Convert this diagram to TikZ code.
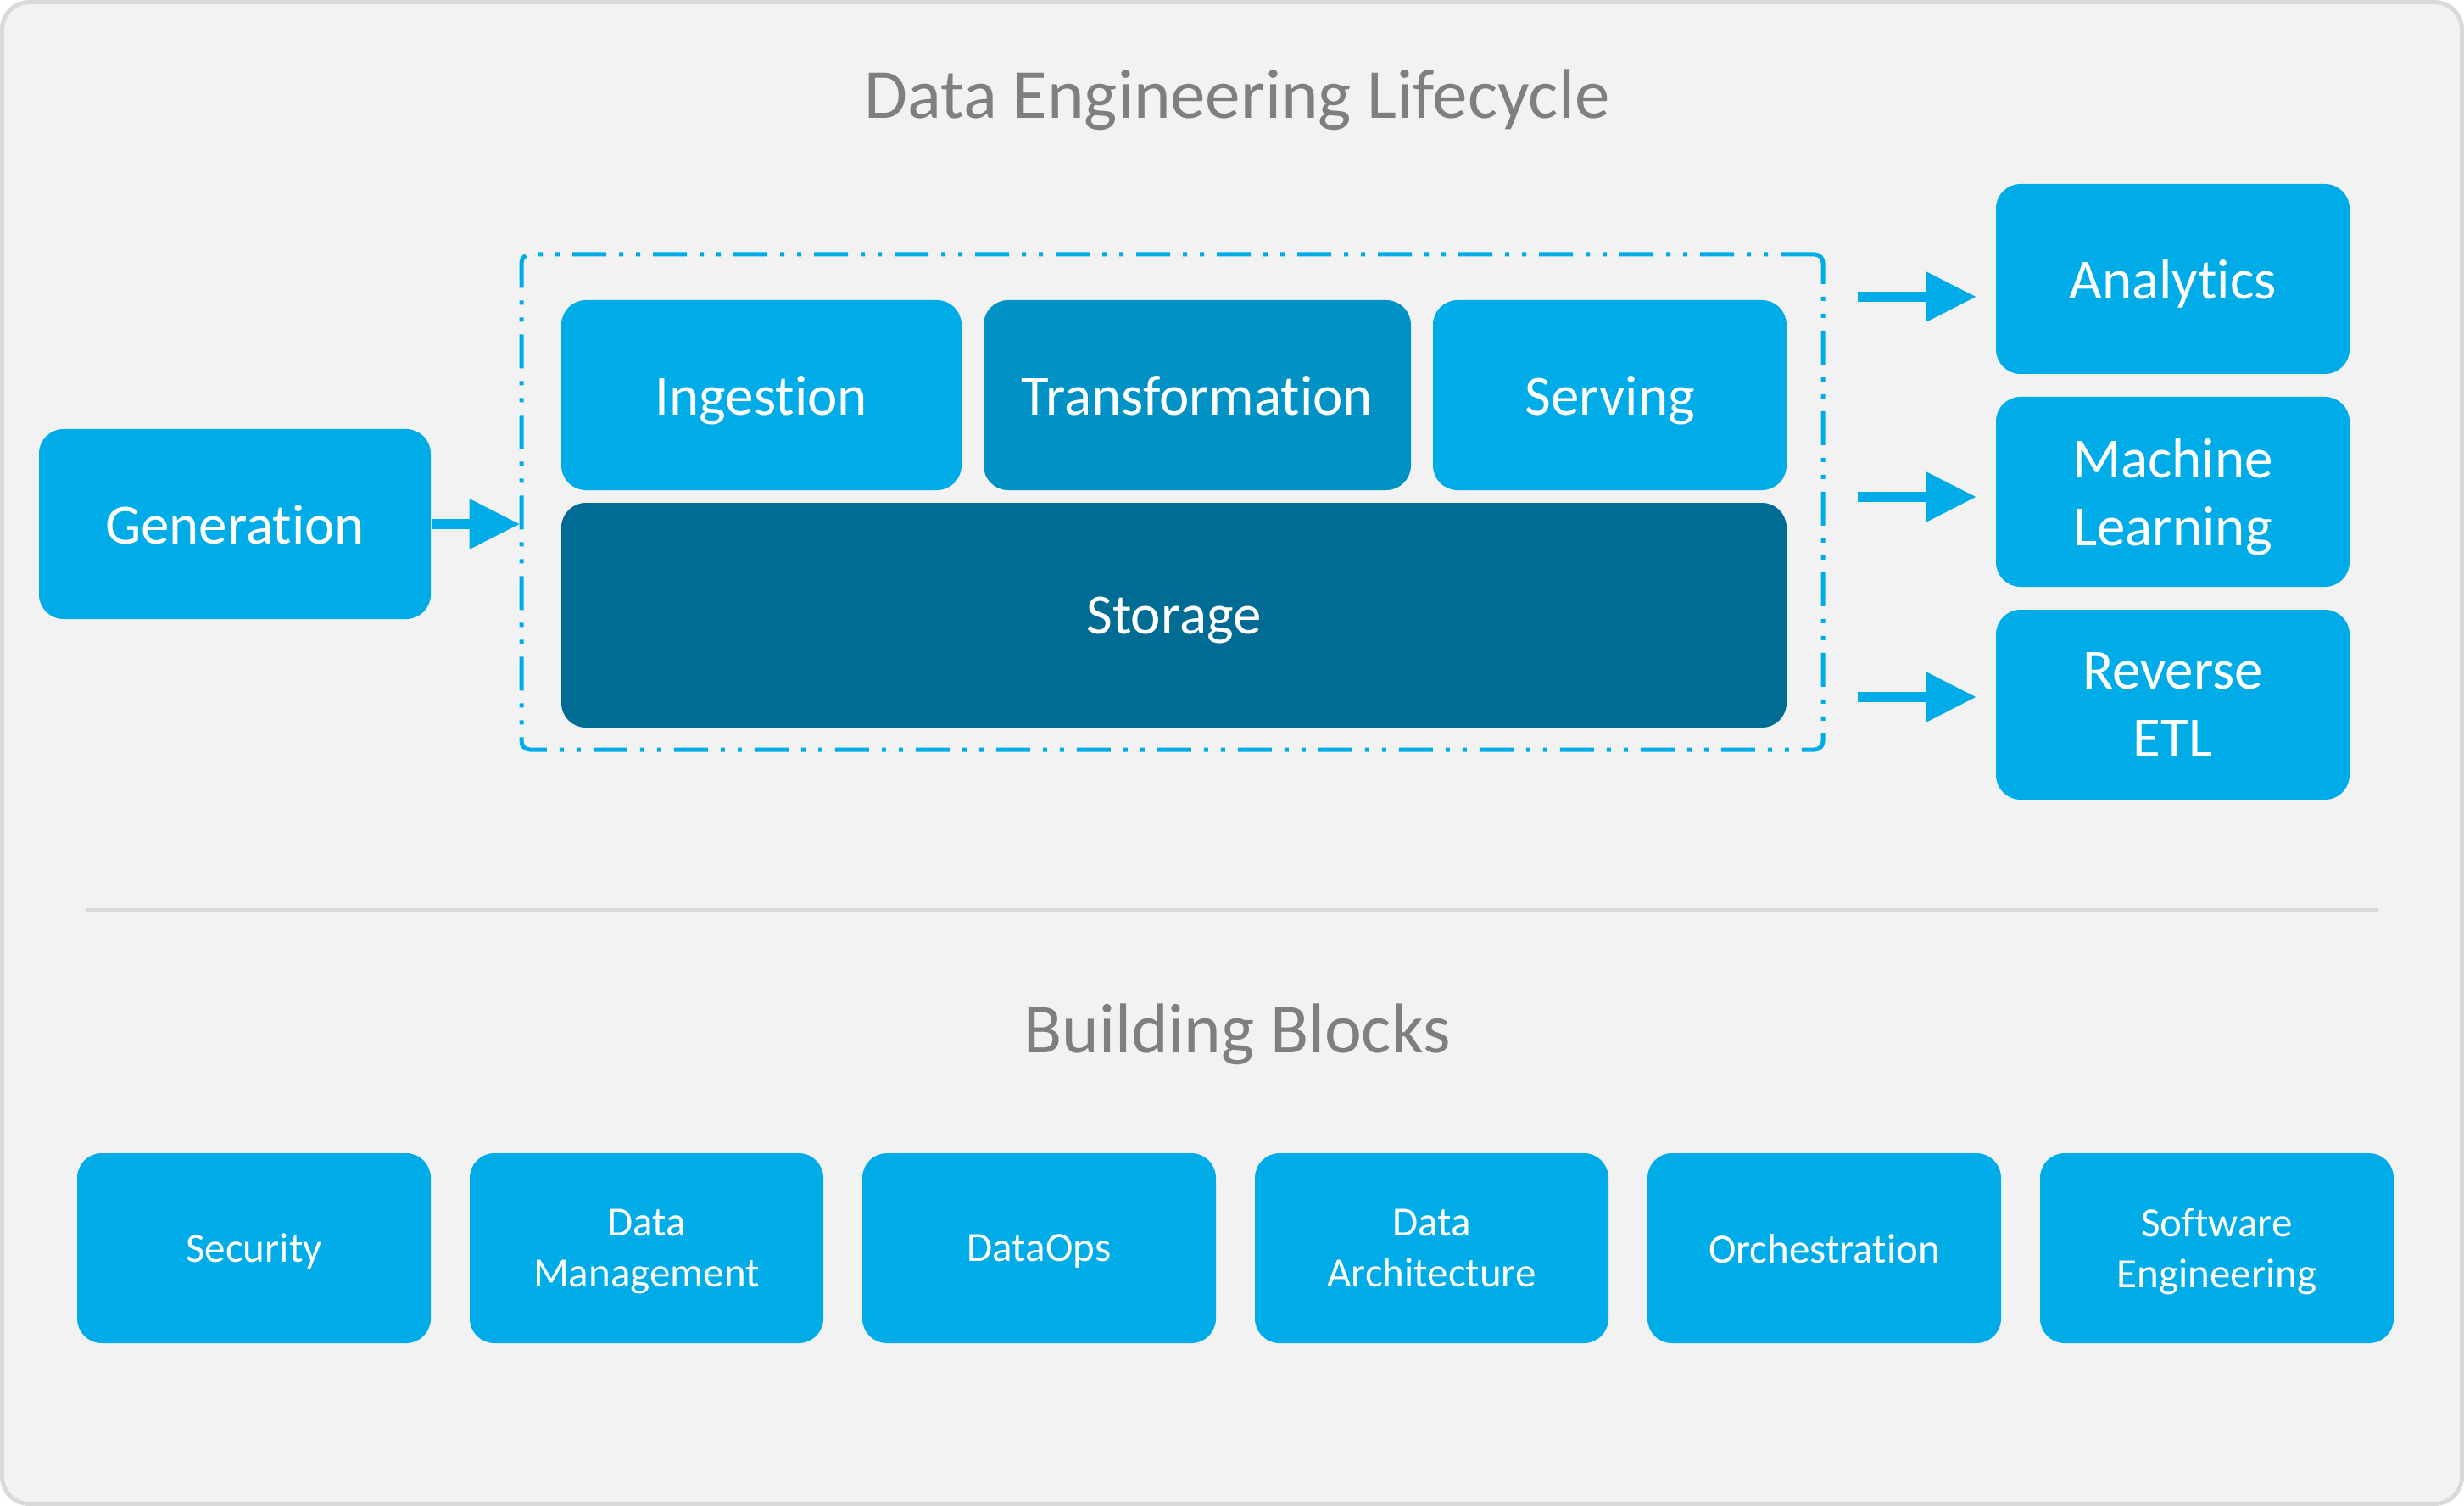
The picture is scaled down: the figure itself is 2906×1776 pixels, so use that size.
\documentclass[tikz,border=0pt]{standalone}
\usepackage{fontspec}
\setmainfont{Carlito}[Ligatures=NoCommon]
\usetikzlibrary{arrows.meta}

\definecolor{deblue}{RGB}{0,172,232}
\definecolor{demid}{RGB}{0,146,196}
\definecolor{dedark}{RGB}{0,108,148}
\definecolor{degray}{RGB}{127,127,127}
\definecolor{deline}{RGB}{217,217,217}
\definecolor{debg}{RGB}{242,242,242}

\begin{document}
\begin{tikzpicture}[x=0.25pt,y=0.25pt,yscale=-1,
    box/.style={fill=deblue, text=white, rounded corners=7.25pt, inner sep=0pt, align=center, text depth=0pt,
        minimum height=56pt, font=\fontsize{16.75}{20}\selectfont},
    blockbox/.style={box, minimum width=104.25pt, font=\fontsize{12.25}{15}\selectfont},
    heading/.style={anchor=base, inner sep=0pt, text=degray, font=\fontsize{20.75}{25}\selectfont},
    flow/.style={draw=deblue, line width=3pt, -{Triangle[length=14.75pt,width=15pt,line width=0pt]}}]
    \useasboundingbox (0,0) rectangle (2906,1776);

    %Shape: Background
    \draw [draw=deline, fill=debg, line width=1.25pt, rounded corners=8pt] (2.5,2.5) rectangle (2903.5,1773.5);

    % Text Node
    \node [heading] (title) at (1459,140) {Data Engineering Lifecycle};

    %Shape: Dash-dot frame
    \node [draw=deblue, line width=1.25pt, dash pattern=on 10pt off 3.75pt on 1.25pt off 3.75pt on 1.25pt off 3.75pt,
        rounded corners=2.5pt, inner sep=0pt, minimum width=383.75pt, minimum height=146pt] (lifecycle) at (1382.5,592) {};

    % Lifecycle stages
    \node [box, minimum width=115.5pt] (gen) at (277,618) {Generation};
    \node [box, minimum width=118pt] (ingest) at (898,466) {Ingestion};
    \node [box, fill=demid, minimum width=126pt] (transform) at (1412,466) {Transformation};
    \node [box, minimum width=104.25pt] (serve) at (1898.5,466) {Serving};
    \node [box, fill=dedark, minimum width=361.25pt, minimum height=66.25pt] (storage) at (1384.5,725.5) {Storage};

    % Outputs
    \node [box, minimum width=104.25pt] (analytics) at (2562.5,329) {Analytics};
    \node [box, minimum width=104.25pt] (ml) at (2562.5,580) {Machine\\Learning};
    \node [box, minimum width=104.25pt] (retl) at (2562.5,831) {Reverse\\ETL};

    %Straight Lines
    \draw [flow] (gen.east) -- (gen.east -| lifecycle.west);
    \coordinate (out1) at (2191,350);
    \coordinate (out2) at (2191,586);
    \coordinate (out3) at (2191,822);
    \draw [flow, shorten >=5.75pt] (out1) -- (out1 -| analytics.west);
    \draw [flow, shorten >=5.75pt] (out2) -- (out2 -| ml.west);
    \draw [flow, shorten >=5.75pt] (out3) -- (out3 -| retl.west);

    %Shape: Separator
    \draw [draw=deline, line width=1pt] (102,1073) -- (2804,1073);

    % Text Node
    \node [heading] (blocks) at (1459,1241) {Building Blocks};

    % Building blocks
    \foreach \lbl [count=\i from 0] in {Security, Data\\Management, DataOps, Data\\Architecture, Orchestration, Software\\Engineering}
        \node [blockbox] (block\i) at ({299.5+463*\i},1472) {\lbl};

\end{tikzpicture}
\end{document}
